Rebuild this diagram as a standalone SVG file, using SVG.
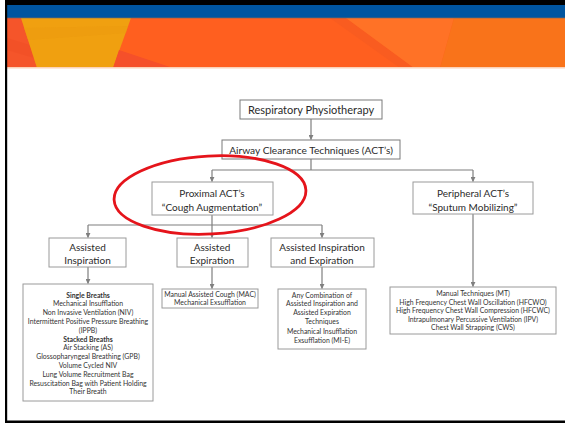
<svg xmlns="http://www.w3.org/2000/svg" width="565" height="424" viewBox="0 0 565 424">
  <defs>
    <marker id="arr" viewBox="0 0 6 6" refX="5.5" refY="3" markerWidth="5" markerHeight="5" orient="auto" markerUnits="userSpaceOnUse">
      <path d="M0,0 L6,3 L0,6 Z" fill="#7f7f7f"/>
    </marker>
    <style>
      .box { fill: #ffffff; stroke: #9a9a9a; stroke-width: 1; }
      .top { stroke: #7a7a7a; }
      .lbl { font-family: Lato, "Liberation Sans", sans-serif; fill: #2b2b2b; text-anchor: middle; }
      .t11 { font-size: 11px; }
      .t10 { font-size: 10px; }
      .t7 { font-size: 6.9px; fill: #333; }
      .b { font-weight: bold; }
      .conn { fill: none; stroke: #7f7f7f; stroke-width: 1.2; }
    </style>
  </defs>

  <!-- slide background and header band -->
  <rect x="0" y="0" width="565" height="424" fill="#ffffff"/>
  <rect x="7" y="18" width="558" height="50" fill="#FF5F1F"/>
  <polygon points="7,18 21,18 37,68 7,68" fill="#F5552A"/>
  <polygon points="7,38 30,45 34,58 7,50" fill="#F04E26" opacity="0.6"/>
  <polygon points="21,18 131,18 113,68 37,68" fill="#F0A010"/>
  <polygon points="24,28 128,26 126,33 28,40" fill="#EC9A0E" opacity="0.5"/>
  <polygon points="119,50 173,68 113,68" fill="#F5502A"/>
  <polygon points="330,18 346,18 414,68 400,68" fill="#F95C20"/>
  <polygon points="346,18 454,18 440,68 414,68" fill="#FF7226"/>
  <polygon points="454,18 565,18 565,68 440,68" fill="#F9731A"/>
  <rect x="7" y="67" width="558" height="1.5" fill="#FBD2B8"/>
  <rect x="7" y="5" width="558" height="13" fill="#0055A0"/>
  <rect x="7" y="17" width="558" height="1.2" fill="#2F5C86"/>

  <!-- frame -->
  <rect x="5" y="0" width="560" height="5" fill="#000"/>
  <rect x="5" y="0" width="2.2" height="423" fill="#000"/>
  <rect x="5" y="420.5" width="560" height="2.5" fill="#000"/>

  <!-- connectors -->
  <g id="connectors">
    <path class="conn" d="M311,119 V139.5" marker-end="url(#arr)"/>
    <path class="conn" d="M311,159 V170 M212,170 H473"/>
    <path class="conn" d="M212,170 V181.5" marker-end="url(#arr)"/>
    <path class="conn" d="M473,170 V181.5" marker-end="url(#arr)"/>
    <path class="conn" d="M212,215 V225 M88,225 H322"/>
    <path class="conn" d="M88,225 V237.5" marker-end="url(#arr)"/>
    <path class="conn" d="M212,225 V237.5" marker-end="url(#arr)"/>
    <path class="conn" d="M322,225 V237.5" marker-end="url(#arr)"/>
    <path class="conn" d="M88,267 V283.5" marker-end="url(#arr)"/>
    <path class="conn" d="M212,267 V288.5" marker-end="url(#arr)"/>
    <path class="conn" d="M322,267 V288.5" marker-end="url(#arr)"/>
    <path class="conn" d="M473,214 V286.5" marker-end="url(#arr)"/>
  </g>

  <g id="resp-physio">
    <rect class="box top" x="240" y="100" width="142" height="19"/>
    <text class="lbl t11" x="311" y="113.5">Respiratory Physiotherapy</text>
  </g>

  <g id="act">
    <rect class="box top" x="222" y="140" width="178" height="19"/>
    <text class="lbl" x="311" y="153.5" font-size="10.2">Airway Clearance Techniques (ACT’s)</text>
  </g>

  <g id="proximal">
    <rect class="box" x="152" y="182" width="121" height="33"/>
    <text class="lbl t10" x="212" y="196.5">Proximal ACT’s</text>
    <text class="lbl t10" x="212" y="210.5">“Cough Augmentation”</text>
  </g>

  <g id="peripheral">
    <rect class="box" x="413" y="182" width="120" height="32"/>
    <text class="lbl t10" x="473" y="196.5">Peripheral ACT’s</text>
    <text class="lbl t10" x="473" y="210.5">“Sputum Mobilizing”</text>
  </g>

  <g id="assisted-inspiration">
    <rect class="box" x="49" y="238" width="77" height="29"/>
    <text class="lbl t10" x="87.5" y="250.5">Assisted</text>
    <text class="lbl t10" x="87.5" y="263.5">Inspiration</text>
  </g>

  <g id="assisted-expiration">
    <rect class="box" x="177" y="238" width="71" height="29"/>
    <text class="lbl t10" x="212" y="250.5">Assisted</text>
    <text class="lbl t10" x="212" y="263.5">Expiration</text>
  </g>

  <g id="assisted-both">
    <rect class="box" x="271" y="238" width="103" height="29"/>
    <text class="lbl t10" x="322" y="250.5">Assisted Inspiration</text>
    <text class="lbl t10" x="322" y="263.5">and Expiration</text>
  </g>

  <g id="inspiration-detail">
    <rect class="box" x="23" y="284" width="130" height="117"/>
    <text class="lbl t7 b" x="88" y="297.5">Single Breaths</text>
    <text class="lbl t7" x="88" y="306.3">Mechanical Insufflation</text>
    <text class="lbl t7" x="88" y="315.1">Non Invasive Ventilation  (NIV)</text>
    <text class="lbl t7" x="88" y="323.9">Intermittent Positive Pressure Breathing</text>
    <text class="lbl t7" x="88" y="332.7">(IPPB)</text>
    <text class="lbl t7 b" x="88" y="341.5">Stacked Breaths</text>
    <text class="lbl t7" x="88" y="350.3">Air Stacking (AS)</text>
    <text class="lbl t7" x="88" y="359.1">Glossopharyngeal Breathing (GPB)</text>
    <text class="lbl t7" x="88" y="367.9">Volume Cycled NIV</text>
    <text class="lbl t7" x="88" y="376.7">Lung Volume Recruitment Bag</text>
    <text class="lbl t7" x="88" y="385.5">Resuscitation Bag with Patient Holding</text>
    <text class="lbl t7" x="88" y="394.3">Their Breath</text>
  </g>

  <g id="expiration-detail">
    <rect class="box" x="162" y="289" width="96" height="19"/>
    <text class="lbl t7" x="210" y="297.3">Manual Assisted Cough (MAC)</text>
    <text class="lbl t7" x="210" y="305.3">Mechanical Exsufflation</text>
  </g>

  <g id="both-detail">
    <rect class="box" x="278" y="289" width="88" height="60"/>
    <text class="lbl t7" x="322" y="297.5">Any Combination of</text>
    <text class="lbl t7" x="322" y="306.3">Assisted Inspiration and</text>
    <text class="lbl t7" x="322" y="315.1">Assisted Expiration</text>
    <text class="lbl t7" x="322" y="323.9">Techniques</text>
    <text class="lbl t7" x="322" y="333.5">Mechanical Insufflation</text>
    <text class="lbl t7" x="322" y="343.1">Exsufflation (MI-E)</text>
  </g>

  <g id="peripheral-detail">
    <rect class="box" x="390" y="287" width="166" height="47"/>
    <text class="lbl t7" x="473" y="296.3">Manual Techniques (MT)</text>
    <text class="lbl t7" x="473" y="304.8">High Frequency Chest Wall Oscillation (HFCWO)</text>
    <text class="lbl t7" x="473" y="313.3">High Frequency Chest Wall Compression (HFCWC)</text>
    <text class="lbl t7" x="473" y="321.8">Intrapulmonary Percussive Ventilation (IPV)</text>
    <text class="lbl t7" x="473" y="330.3">Chest Wall Strapping (CWS)</text>
  </g>

  <!-- highlight ring around the proximal branch -->
  <ellipse cx="210" cy="195" rx="96" ry="39" transform="rotate(-3 210 195)" fill="none" stroke="#E5141B" stroke-width="2.8"/>
</svg>
